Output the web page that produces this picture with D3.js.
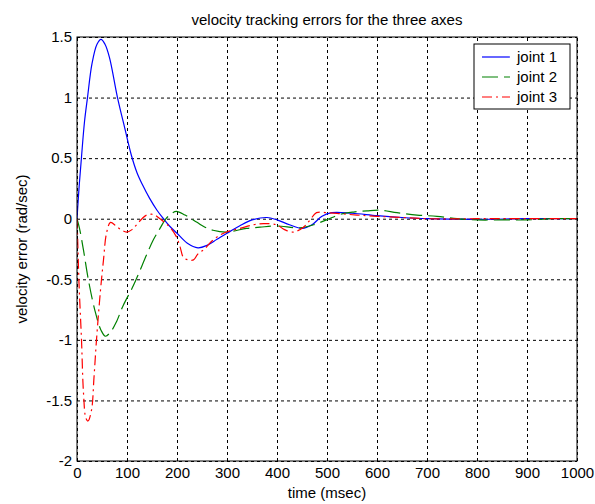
<!DOCTYPE html>
<html>
<head>
<meta charset="utf-8">
<script src="https://cdn.jsdelivr.net/npm/d3@7"></script>
<style>
body { margin: 0; background: #fff; }
text { font-family: "Liberation Sans", Arial, sans-serif; fill: #000; }
.grid line { stroke: #000; stroke-dasharray: 3,3; }
.grid .domain { display: none; }
.grid text { font-size: 15px; }
</style>
</head>
<body>
<div id="chart"></div>
<script>
// joint 1 (blue, solid)
var t1 = [0,4,9,15,21,30,40,48,56,65,81,96,109,120,131,145,160,173,185,200,220,242,260,280,300,325,350,380,400,425,450,470,490,510,550,600,650,700,800,900,1000]
var v1 = [0,0.25,0.51,0.8,1.0,1.28,1.44,1.48,1.44,1.33,1.0,0.74,0.52,0.38,0.28,0.17,0.07,0,-0.06,-0.12,-0.2,-0.24,-0.22,-0.17,-0.12,-0.06,-0.01,0.01,-0.01,-0.05,-0.08,-0.05,0.02,0.05,0.045,0.025,0.01,0,-0.005,0,0]
// joint 2 (green, dashed)
var t2 = [0,5,13,23,36,48,57,68,79,92,113,139,152,166,178,190,199,216,240,256,272,299,339,366,399,446,473,499,526,553,580,606,640,680,720,760,800,850,900,950,1000]
var v2 = [0,-0.08,-0.26,-0.51,-0.76,-0.92,-0.97,-0.93,-0.85,-0.72,-0.55,-0.3,-0.18,-0.08,0.0,0.045,0.06,0.03,-0.03,-0.07,-0.095,-0.11,-0.08,-0.07,-0.06,-0.075,-0.05,-0.01,0.035,0.055,0.065,0.07,0.05,0.03,0.02,0.0,-0.01,-0.01,-0.01,0,0]
// joint 3 (red, dash-dot)
var t3 = [0,1,4,9,13,18,22,29,34,39,47,53,59,67,78,88,99,110,119,130,139,153,166,178,186,199,206,213,223,233,242,255,266,280,299,326,353,373,399,415,433,453,466,479,500,530,560,600,650,700,800,900,1000]
var v3 = [0,-0.12,-0.53,-1.0,-1.44,-1.65,-1.67,-1.58,-1.31,-1.0,-0.59,-0.34,-0.12,-0.03,-0.06,-0.09,-0.11,-0.09,-0.05,0.0,0.03,0.035,0.0,-0.04,-0.07,-0.15,-0.23,-0.32,-0.34,-0.34,-0.29,-0.25,-0.2,-0.15,-0.11,-0.08,-0.05,-0.04,-0.05,-0.09,-0.11,-0.07,-0.01,0.05,0.05,0.04,0.03,0.02,0.01,0,0,0,0]

var labels = ["joint 1", "joint 2", "joint 3"]
var colors = ["#0000ff", "#008000", "#ff0000"]
var dashes = ["none", "16,6", "10,4,2,4"]
var xTicks = [0,100,200,300,400,500,600,700,800,900,1000]
var yTicks = [-2,-1.5,-1,-0.5,0,0.5,1,1.5]

var width = 595, height = 504
var padL = 77, padR = 577, padT = 37, padB = 461

var svg = d3.select("#chart").append("svg")
    .attr("width", width).attr("height", height)

var x = d3.scaleLinear().domain([0, 1000]).range([padL, padR])
var y = d3.scaleLinear().domain([-2, 1.5]).range([padB, padT])

// grid + tick labels
svg.append("g").attr("class", "grid")
    .attr("transform", "translate(0," + padB + ")")
    .call(d3.axisBottom(x).tickValues(xTicks).tickSize(-(padB - padT)).tickPadding(6)
        .tickFormat(function(d){ return String(d) }))

svg.append("g").attr("class", "grid")
    .attr("transform", "translate(" + padL + ",0)")
    .call(d3.axisLeft(y).tickValues(yTicks).tickSize(-(padR - padL)).tickPadding(5)
        .tickFormat(function(d){ return String(d) }))

svg.append("clipPath").attr("id", "clip")
    .append("rect").attr("x", padL).attr("y", padT)
    .attr("width", padR - padL).attr("height", padB - padT)

var series = [
    t1.map(function(t, i){ return [t, v1[i]] }),
    t2.map(function(t, i){ return [t, v2[i]] }),
    t3.map(function(t, i){ return [t, v3[i]] })
]

var line = d3.line()
    .x(function(d){ return x(d[0]) })
    .y(function(d){ return y(d[1]) })
    .curve(d3.curveCatmullRom)

svg.append("g").attr("clip-path", "url(#clip)")
    .selectAll("path").data(series).enter().append("path")
    .attr("d", line)
    .attr("fill", "none")
    .attr("stroke", function(d, i){ return colors[i] })
    .attr("stroke-width", 1.2)
    .attr("stroke-dasharray", function(d, i){ return dashes[i] })

// box
svg.append("rect").attr("x", padL).attr("y", padT)
    .attr("width", padR - padL).attr("height", padB - padT)
    .attr("fill", "none").attr("stroke", "#000")

// title and axis labels
svg.append("text").attr("x", (padL + padR) / 2).attr("y", 25)
    .attr("text-anchor", "middle").style("font-size", "15px")
    .text("velocity tracking errors for the three axes")

svg.append("text").attr("x", (padL + padR) / 2).attr("y", 498)
    .attr("text-anchor", "middle").style("font-size", "15px")
    .text("time (msec)")

svg.append("text")
    .attr("transform", "translate(27," + (padT + padB) / 2 + ") rotate(-90)")
    .attr("text-anchor", "middle").style("font-size", "15px")
    .text("velocity error (rad/sec)")

// legend
var legend = svg.append("g")
legend.append("rect").attr("x", 474).attr("y", 44).attr("width", 96).attr("height", 65)
    .attr("fill", "#fff").attr("stroke", "#000")

var rows = legend.selectAll("g.row").data(labels).enter().append("g")
    .attr("class", "row")
    .attr("transform", function(d, i){ return "translate(0," + (57 + i * 20) + ")" })

rows.append("line").attr("x1", 482).attr("x2", 510).attr("y1", 0).attr("y2", 0)
    .attr("stroke", function(d, i){ return colors[i] })
    .attr("stroke-width", 1.2)
    .attr("stroke-dasharray", function(d, i){ return dashes[i] })

rows.append("text").attr("x", 517).attr("y", 5)
    .style("font-size", "15px")
    .text(function(d){ return d })
</script>
</body>
</html>
